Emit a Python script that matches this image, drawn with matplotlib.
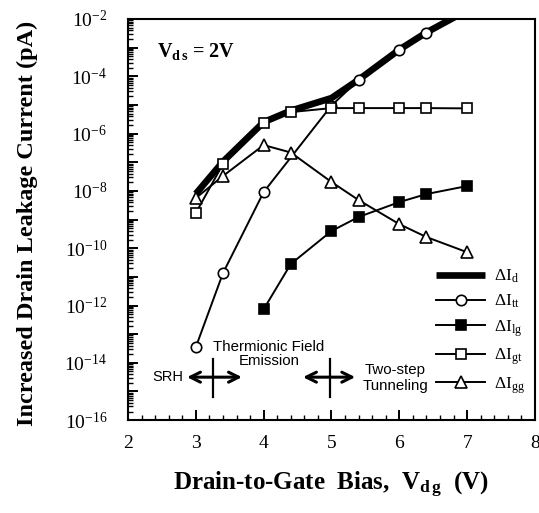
import numpy as np
import matplotlib
matplotlib.use("Agg")
import matplotlib.pyplot as plt
from matplotlib.ticker import LogLocator, FixedLocator, MultipleLocator, FuncFormatter, NullFormatter

plt.rcParams['font.family'] = ['Liberation Serif', 'DejaVu Serif']
plt.rcParams['mathtext.fontset'] = 'custom'
plt.rcParams['mathtext.rm'] = 'Liberation Serif'
plt.rcParams['mathtext.it'] = 'Liberation Serif:italic'
plt.rcParams['mathtext.bf'] = 'Liberation Serif:bold'

# ---- data (log10 of current in pA) ----
vdg_d = [3.0, 3.4, 4.0, 4.4, 5.0, 5.4, 6.0, 6.4, 7.0]
log_Id = [-8.1, -6.98, -5.6, -5.2, -4.76, -4.12, -3.07, -2.47, -1.7]

vdg_tt = [3.0, 3.4, 4.0, 5.0, 5.4, 6.0, 6.4, 7.0]
log_Itt = [-13.45, -10.87, -8.04, -5.02, -4.13, -3.08, -2.49, -1.7]

vdg_lg = [4.0, 4.4, 5.0, 5.4, 6.0, 6.4, 7.0]
log_Ilg = [-12.13, -10.55, -9.40, -8.91, -8.39, -8.11, -7.83]

vdg_gt = [3.0, 3.4, 4.0, 4.4, 5.0, 5.4, 6.0, 6.4, 7.0]
log_Igt = [-8.77, -7.06, -5.63, -5.25, -5.11, -5.11, -5.11, -5.11, -5.12]

vdg_gg = [3.0, 3.4, 4.0, 4.4, 5.0, 5.4, 6.0, 6.4, 7.0]
log_Igg = [-8.25, -7.48, -6.40, -6.66, -7.69, -8.32, -9.16, -9.61, -10.14]

fig = plt.figure(figsize=(5.39, 5.13), dpi=100)
ax = fig.add_axes([0.2375, 0.181, 0.755, 0.782])

def p(v):
    return 10.0 ** np.array(v)

ax.plot(vdg_d, p(log_Id), color='black', lw=4.8, solid_capstyle='butt', zorder=2,
        label=r'$\Delta\mathrm{I}_{\mathrm{d}}$')
ax.plot(vdg_tt, p(log_Itt), color='black', lw=1.4, marker='o', ms=7.5, mfc='white',
        mec='black', mew=1.2, zorder=3, label=r'$\Delta\mathrm{I}_{\mathrm{tt}}$')
ax.plot(vdg_lg, p(log_Ilg), color='black', lw=1.4, marker='s', ms=6.5, mfc='black',
        mec='black', mew=1.2, zorder=3, label=r'$\Delta\mathrm{I}_{\mathrm{lg}}$')
ax.plot(vdg_gt, p(log_Igt), color='black', lw=1.4, marker='s', ms=6.5, mfc='white',
        mec='black', mew=1.2, zorder=3, label=r'$\Delta\mathrm{I}_{\mathrm{gt}}$')
ax.plot(vdg_gg, p(log_Igg), color='black', lw=1.4, marker='^', ms=9, mfc='white',
        mec='black', mew=1.2, zorder=3, label=r'$\Delta\mathrm{I}_{\mathrm{gg}}$')

ax.set_yscale('log')
ax.set_xlim(2, 8)
ax.set_ylim(1e-16, 1e-2)

# ticks
ax.xaxis.set_major_locator(MultipleLocator(1))
ax.xaxis.set_minor_locator(MultipleLocator(0.2))
ax.yaxis.set_major_locator(FixedLocator([10.0 ** e for e in range(-16, -1)]))
ax.yaxis.set_minor_locator(LogLocator(base=10, subs=np.arange(2, 10), numticks=50))
ax.yaxis.set_minor_formatter(NullFormatter())

def yfmt(y, pos):
    e = int(round(np.log10(y)))
    if e % 2 == 0:
        return r'$10^{%d}$' % e
    return ''
ax.yaxis.set_major_formatter(FuncFormatter(yfmt))

ax.tick_params(which='both', direction='in', top=False, right=False, labelsize=14)
ax.tick_params(axis='y', pad=15)
ax.tick_params(axis='x', pad=11)
ax.tick_params(which='major', length=7, width=1.4)
ax.tick_params(which='minor', length=3.5, width=1.0)
for s in ax.spines.values():
    s.set_linewidth(1.5)

ax.set_xlabel(r'Drain-to-Gate  Bias,  V$_{\mathbf{d\,g}}$  (V)', fontsize=18,
              fontweight='bold')
ax.xaxis.set_label_coords(0.5, -0.125)
ax.set_ylabel('Increased Drain Leakage Current (pA)', fontsize=17.5,
              fontweight='bold')
ax.yaxis.set_label_coords(-0.222, 0.49)

# annotations
ax.text(2.43, 10 ** -3.15, r'V$_{\mathbf{d\,s}}$ = 2V', fontsize=14.5, fontweight='bold',
        ha='left', va='center')

sans = ['Liberation Sans', 'DejaVu Sans']
ax.text(2.59, 10 ** -14.5, 'SRH', fontsize=10.5, family=sans, ha='center', va='center')
ax.text(4.08, 10 ** -13.68, 'Thermionic Field\nEmission', fontsize=10.8, family=sans,
        ha='center', va='center', multialignment='center', linespacing=1.0)
ax.text(5.94, 10 ** -14.53, 'Two-step\nTunneling', fontsize=10.8, family=sans,
        ha='center', va='center', multialignment='center', linespacing=1.1)

for x0, x1, xv in [(2.87, 3.68, 3.25), (4.58, 5.35, 4.98)]:
    ax.annotate('', xy=(x0, 10 ** -14.5), xytext=(x1, 10 ** -14.5),
                arrowprops=dict(arrowstyle='<->', lw=2.2, color='black',
                                mutation_scale=18, shrinkA=0, shrinkB=0))
    ax.plot([xv, xv], [10 ** -13.85, 10 ** -15.18], color='black', lw=1.6)

leg = ax.legend(loc='lower right', bbox_to_anchor=(1.0, 0.035), frameon=False,
                fontsize=12.5, handlelength=2.8, labelspacing=0.45, handletextpad=0.5,
                borderaxespad=0.2)

fig.savefig('out.png', dpi=100)
